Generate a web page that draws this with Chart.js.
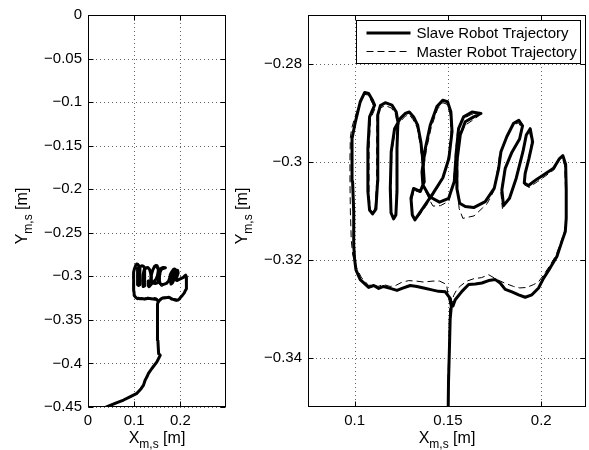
<!DOCTYPE html>
<html>
<head>
<meta charset="utf-8">
<script src="https://cdn.jsdelivr.net/npm/chart.js@4.4.1/dist/chart.umd.min.js"></script>
<style>
  html, body { margin: 0; padding: 0; background: #fff; }
  #wrap { position: relative; width: 589px; height: 450px; overflow: hidden; }
  canvas { position: absolute; top: 0; }
  #leftCanvas { left: 0; }
  #rightCanvas { left: 228px; }
</style>
</head>
<body>
<div id="wrap">
  <canvas id="leftCanvas" width="228" height="450"></canvas>
  <canvas id="rightCanvas" width="361" height="450"></canvas>
</div>
<script>
const FONT = '"Liberation Sans", Arial, Helvetica, sans-serif';

// Slave robot trajectory (solid)
const slaveX = [
  0.0400, 0.0600, 0.0770, 0.0920, 0.1060, 0.1150, 0.1203, 0.1239, 0.1280, 0.1310,
  0.1384, 0.1493, 0.1565, 0.1530, 0.1514, 0.1505, 0.1500, 0.1503, 0.1508, 0.1512,
  0.1518, 0.1513, 0.1486, 0.1450, 0.1414, 0.1370, 0.1334, 0.1298, 0.1254, 0.1227,
  0.1191, 0.1155, 0.1129, 0.1102, 0.1075, 0.1030, 0.1007, 0.1000, 0.0995, 0.0995,
  0.0989, 0.0986, 0.0986, 0.1004, 0.1030, 0.1054, 0.1075, 0.1096, 0.1107, 0.1080,
  0.1071, 0.1071, 0.1080, 0.1096, 0.1114, 0.1123, 0.1123, 0.1125, 0.1138, 0.1164,
  0.1200, 0.1223, 0.1232, 0.1227, 0.1227, 0.1221, 0.1209, 0.1195, 0.1191, 0.1196,
  0.1214, 0.1245, 0.1271, 0.1293, 0.1316, 0.1338, 0.1355, 0.1366, 0.1373, 0.1352,
  0.1316, 0.1302, 0.1309, 0.1323, 0.1366, 0.1420, 0.1473, 0.1505, 0.1522, 0.1516,
  0.1498, 0.1472, 0.1441, 0.1405, 0.1379, 0.1361, 0.1366, 0.1402, 0.1455, 0.1504,
  0.1534, 0.1545, 0.1557, 0.1584, 0.1629, 0.1677, 0.1638, 0.1593, 0.1566, 0.1548,
  0.1548, 0.1563, 0.1593, 0.1638, 0.1700, 0.1748, 0.1772, 0.1784, 0.1816, 0.1852,
  0.1880, 0.1900, 0.1884, 0.1843, 0.1807, 0.1789, 0.1798, 0.1830, 0.1866, 0.1902,
  0.1920, 0.1941, 0.1954, 0.1934, 0.1914, 0.1909, 0.1932, 0.1977, 0.2022, 0.2066,
  0.2098, 0.2116, 0.2131, 0.2134, 0.2134, 0.2129, 0.2111, 0.2084, 0.2048, 0.2013,
  0.1986, 0.1950, 0.1914, 0.1879, 0.1843, 0.1807, 0.1780, 0.1754, 0.1718, 0.1682,
  0.1647, 0.1611, 0.1575, 0.1539, 0.1527
];
const slaveY = [
  -0.4500, -0.4455, -0.4420, -0.4380, -0.4343, -0.4290, -0.4249, -0.4191, -0.4150, -0.4115,
  -0.4058, -0.3982, -0.3906, -0.3887, -0.3735, -0.3650, -0.3550, -0.3450, -0.3380, -0.3320,
  -0.3295, -0.3279, -0.3265, -0.3264, -0.3261, -0.3257, -0.3254, -0.3252, -0.3258, -0.3262,
  -0.3258, -0.3254, -0.3258, -0.3252, -0.3256, -0.3240, -0.3220, -0.3199, -0.3169, -0.3101,
  -0.3040, -0.3006, -0.2952, -0.2918, -0.2877, -0.2858, -0.2860, -0.2874, -0.2884, -0.2908,
  -0.2972, -0.3060, -0.3098, -0.3106, -0.3096, -0.3040, -0.2959, -0.2904, -0.2885, -0.2879,
  -0.2884, -0.2898, -0.2918, -0.2972, -0.3060, -0.3108, -0.3116, -0.3104, -0.3054, -0.2979,
  -0.2932, -0.2911, -0.2901, -0.2898, -0.2908, -0.2925, -0.2959, -0.2999, -0.3040, -0.3060,
  -0.3054, -0.3074, -0.3108, -0.3118, -0.3094, -0.3064, -0.3032, -0.2993, -0.2938, -0.2898,
  -0.2877, -0.2874, -0.2887, -0.2925, -0.2972, -0.3020, -0.3047, -0.3071, -0.3082, -0.3074,
  -0.3040, -0.2979, -0.2932, -0.2908, -0.2898, -0.2901, -0.2908, -0.2918, -0.2945, -0.2999,
  -0.3054, -0.3084, -0.3091, -0.3093, -0.3081, -0.3054, -0.3013, -0.2979, -0.2948, -0.2921,
  -0.2915, -0.2926, -0.2953, -0.2980, -0.3013, -0.3057, -0.3089, -0.3074, -0.3033, -0.2979,
  -0.2945, -0.2932, -0.2959, -0.2993, -0.3023, -0.3043, -0.3048, -0.3035, -0.3024, -0.3013,
  -0.2993, -0.2987, -0.3005, -0.3054, -0.3115, -0.3142, -0.3162, -0.3193, -0.3216, -0.3237,
  -0.3257, -0.3271, -0.3276, -0.3271, -0.3265, -0.3260, -0.3247, -0.3240, -0.3242, -0.3247,
  -0.3249, -0.3250, -0.3264, -0.3281, -0.3294
];

// Master robot trajectory (dashed)
const masterX = [
  0.0410, 0.0620, 0.0780, 0.0930, 0.1060, 0.1160, 0.1210, 0.1250, 0.1285, 0.1315,
  0.1390, 0.1497, 0.1560, 0.1527, 0.1512, 0.1502, 0.1498, 0.1500, 0.1505, 0.1508,
  0.1510, 0.1500, 0.1493, 0.1455, 0.1420, 0.1370, 0.1330, 0.1290, 0.1250, 0.1220,
  0.1190, 0.1155, 0.1125, 0.1100, 0.1075, 0.1035, 0.1005, 0.0990, 0.0982, 0.0977,
  0.0975, 0.0975, 0.0977, 0.0985, 0.1000, 0.1028, 0.1050, 0.1072, 0.1095, 0.1108,
  0.1085, 0.1077, 0.1077, 0.1084, 0.1098, 0.1110, 0.1118, 0.1118, 0.1120, 0.1135,
  0.1165, 0.1198, 0.1220, 0.1228, 0.1224, 0.1224, 0.1218, 0.1207, 0.1198, 0.1195,
  0.1199, 0.1217, 0.1248, 0.1273, 0.1294, 0.1314, 0.1335, 0.1350, 0.1361, 0.1368,
  0.1350, 0.1318, 0.1306, 0.1312, 0.1325, 0.1368, 0.1420, 0.1470, 0.1500, 0.1516,
  0.1512, 0.1495, 0.1472, 0.1444, 0.1410, 0.1384, 0.1367, 0.1370, 0.1405, 0.1420,
  0.1460, 0.1505, 0.1530, 0.1540, 0.1552, 0.1580, 0.1625, 0.1668, 0.1635, 0.1592,
  0.1562, 0.1553, 0.1552, 0.1560, 0.1580, 0.1640, 0.1685, 0.1710, 0.1745, 0.1766,
  0.1778, 0.1812, 0.1848, 0.1878, 0.1895, 0.1880, 0.1838, 0.1802, 0.1784, 0.1792,
  0.1825, 0.1862, 0.1898, 0.1916, 0.1938, 0.1948, 0.1930, 0.1912, 0.1908, 0.1935,
  0.1980, 0.2025, 0.2068, 0.2096, 0.2112, 0.2126, 0.2130, 0.2131, 0.2126, 0.2108,
  0.2080, 0.2045, 0.2010, 0.1985, 0.1960, 0.1923, 0.1885, 0.1852, 0.1810, 0.1763,
  0.1718, 0.1680, 0.1640, 0.1602, 0.1570, 0.1548, 0.1530, 0.1522
];
const masterY = [
  -0.4500, -0.4452, -0.4418, -0.4378, -0.4340, -0.4287, -0.4245, -0.4188, -0.4148, -0.4112,
  -0.4055, -0.3978, -0.3902, -0.3884, -0.3732, -0.3650, -0.3550, -0.3450, -0.3380, -0.3320,
  -0.3290, -0.3270, -0.3250, -0.3243, -0.3243, -0.3245, -0.3243, -0.3242, -0.3246, -0.3252,
  -0.3254, -0.3250, -0.3254, -0.3250, -0.3252, -0.3235, -0.3212, -0.3190, -0.3160, -0.3100,
  -0.3040, -0.2990, -0.2950, -0.2930, -0.2910, -0.2880, -0.2862, -0.2863, -0.2880, -0.2892,
  -0.2912, -0.2975, -0.3062, -0.3098, -0.3104, -0.3092, -0.3040, -0.2960, -0.2906, -0.2890,
  -0.2885, -0.2890, -0.2904, -0.2922, -0.2975, -0.3062, -0.3110, -0.3118, -0.3104, -0.3054,
  -0.2980, -0.2936, -0.2916, -0.2906, -0.2904, -0.2914, -0.2930, -0.2962, -0.3000, -0.3042,
  -0.3062, -0.3058, -0.3078, -0.3110, -0.3120, -0.3098, -0.3068, -0.3036, -0.2996, -0.2942,
  -0.2902, -0.2882, -0.2879, -0.2892, -0.2930, -0.2976, -0.3022, -0.3052, -0.3080, -0.3090,
  -0.3089, -0.3080, -0.3042, -0.2982, -0.2936, -0.2912, -0.2903, -0.2905, -0.2914, -0.2925,
  -0.2950, -0.3000, -0.3056, -0.3095, -0.3115, -0.3110, -0.3094, -0.3085, -0.3060, -0.3015,
  -0.2982, -0.2952, -0.2925, -0.2920, -0.2930, -0.2957, -0.2985, -0.3018, -0.3062, -0.3095,
  -0.3078, -0.3036, -0.2982, -0.2948, -0.2937, -0.2962, -0.2997, -0.3028, -0.3046, -0.3052,
  -0.3040, -0.3028, -0.3016, -0.2996, -0.2990, -0.3008, -0.3055, -0.3115, -0.3140, -0.3160,
  -0.3190, -0.3212, -0.3232, -0.3245, -0.3250, -0.3256, -0.3257, -0.3254, -0.3248, -0.3240,
  -0.3230, -0.3236, -0.3238, -0.3243, -0.3252, -0.3260, -0.3273, -0.3288
];

const seriesLabels = ["Slave Robot Trajectory", "Master Robot Trajectory"];

// Axis limits and tick values
const leftXRange = [0, 0.299];
const leftYRange = [-0.45, 0];
const leftXTicks = [0, 0.1, 0.2];
const leftYTicks = [0, -0.05, -0.1, -0.15, -0.2, -0.25, -0.3, -0.35, -0.4, -0.45];

const rightXRange = [0.075, 0.224];
const rightYRange = [-0.35, -0.27];
const rightXTicks = [0.1, 0.15, 0.2];
const rightYTicks = [-0.28, -0.3, -0.32, -0.34];

// Axis titles: main letter, subscript, rest
const xTitle = ["X", "m,s", " [m]"];
const yTitle = ["Y", "m,s", " [m]"];

function fmtTick(v) {
  return String(Math.round(v * 1000) / 1000).replace("-", "\u2212");
}

function toPoints(xs, ys) {
  return xs.map((x, i) => ({ x, y: ys[i] }));
}

function drawSubLabel(ctx, parts, x, y, rotate) {
  const [main, sub, rest] = parts;
  ctx.save();
  ctx.translate(x, y);
  if (rotate) ctx.rotate(-Math.PI / 2);
  ctx.fillStyle = "#000";
  ctx.textAlign = "left";
  ctx.textBaseline = "alphabetic";
  ctx.font = `16px ${FONT}`;
  const w1 = ctx.measureText(main).width, w3 = ctx.measureText(rest).width;
  ctx.font = `12px ${FONT}`;
  const w2 = ctx.measureText(sub).width;
  let cx = -(w1 + w2 + w3) / 2;
  ctx.font = `16px ${FONT}`;
  ctx.fillText(main, cx, 0);
  cx += w1;
  ctx.font = `12px ${FONT}`;
  ctx.fillText(sub, cx, 5);
  cx += w2;
  ctx.font = `16px ${FONT}`;
  ctx.fillText(rest, cx, 0);
  ctx.restore();
}

// MATLAB-ish axes: dotted grid, box, inward ticks, subscripted titles, boxed legend
const matlabAxes = {
  id: "matlabAxes",
  beforeDatasetsDraw(chart) {
    const { ctx, chartArea: a, scales: { x, y } } = chart;
    ctx.save();
    ctx.strokeStyle = "rgba(0,0,0,0.6)";
    ctx.lineWidth = 1;
    ctx.setLineDash([1, 3]);
    ctx.beginPath();
    x.ticks.forEach(t => {
      const px = Math.round(x.getPixelForValue(t.value)) + 0.5;
      ctx.moveTo(px, a.top); ctx.lineTo(px, a.bottom);
    });
    y.ticks.forEach(t => {
      const py = Math.round(y.getPixelForValue(t.value)) + 0.5;
      ctx.moveTo(a.left, py); ctx.lineTo(a.right, py);
    });
    ctx.stroke();
    ctx.restore();
  },
  afterDraw(chart, args, opts) {
    const { ctx, chartArea: a, scales: { x, y } } = chart;
    const L = Math.round(a.left) + 0.5, R = Math.round(a.right) - 0.5;
    const T = Math.round(a.top) + 0.5, B = Math.round(a.bottom) - 0.5;
    ctx.save();
    ctx.strokeStyle = "#000";
    ctx.lineWidth = 1;
    ctx.setLineDash([]);
    ctx.strokeRect(L, T, R - L, B - T);
    ctx.beginPath();
    x.ticks.forEach(t => {
      const px = Math.round(x.getPixelForValue(t.value)) + 0.5;
      ctx.moveTo(px, B); ctx.lineTo(px, B - 5);
      ctx.moveTo(px, T); ctx.lineTo(px, T + 5);
    });
    y.ticks.forEach(t => {
      const py = Math.round(y.getPixelForValue(t.value)) + 0.5;
      ctx.moveTo(L, py); ctx.lineTo(L + 5, py);
      ctx.moveTo(R, py); ctx.lineTo(R - 5, py);
    });
    ctx.stroke();

    drawSubLabel(ctx, xTitle, (a.left + a.right) / 2, 443, false);
    drawSubLabel(ctx, yTitle, a.left - 61, 216, true);

    if (opts.legend) {
      ctx.font = `15px ${FONT}`;
      const labels = chart.data.datasets.map(d => d.label);
      const tw = Math.max(...labels.map(s => ctx.measureText(s).width));
      const bw = Math.round(60 + tw + 4), bh = 43;
      const bx = Math.round(a.right) - 6 - bw + 0.5, by = 20.5;
      ctx.fillStyle = "#fff";
      ctx.fillRect(bx, by, bw, bh);
      ctx.strokeRect(bx, by, bw, bh);
      chart.data.datasets.forEach((d, i) => {
        const ly = by + 12.5 + i * 18.5;
        ctx.save();
        ctx.strokeStyle = d.borderColor;
        ctx.lineWidth = d.borderWidth;
        ctx.setLineDash(d.borderDash || []);
        ctx.beginPath();
        ctx.moveTo(bx + 10, ly); ctx.lineTo(bx + 54, ly);
        ctx.stroke();
        ctx.restore();
        ctx.fillStyle = "#000";
        ctx.textBaseline = "middle";
        ctx.textAlign = "left";
        ctx.fillText(d.label, bx + 60, ly + 1);
      });
    }
    ctx.restore();
  },
};

function makeTrajectoryChart(canvasId, cfg) {
  const axis = (range, ticks) => ({
    type: "linear",
    min: range[0],
    max: range[1],
    afterBuildTicks: (scale) => { scale.ticks = ticks.map(v => ({ value: v })); },
    grid: { display: false, drawTicks: false },
    border: { display: false },
    ticks: {
      autoSkip: false,
      maxRotation: 0,
      padding: cfg.tickPad,
      color: "#000",
      font: { family: FONT, size: 15 },
      callback: (v) => fmtTick(v),
    },
  });
  const xAxis = axis(cfg.xRange, cfg.xTicks);
  xAxis.afterFit = (scale) => { scale.height = 43; };
  const yAxis = axis(cfg.yRange, cfg.yTicks);
  yAxis.ticks.padding = 6;
  yAxis.afterFit = (scale) => { scale.width = cfg.yWidth; };

  return new Chart(document.getElementById(canvasId), {
    type: "scatter",
    data: {
      datasets: [
        {
          label: seriesLabels[0],
          data: toPoints(slaveX, slaveY),
          showLine: true,
          borderColor: "#000",
          borderWidth: 3,
          borderJoinStyle: "round",
          borderCapStyle: "round",
          pointRadius: 0,
        },
        {
          label: seriesLabels[1],
          data: toPoints(masterX, masterY),
          showLine: true,
          borderColor: "#000",
          borderWidth: 1,
          borderDash: [7, 4],
          pointRadius: 0,
        },
      ],
    },
    options: {
      responsive: false,
      animation: false,
      layout: { padding: { top: 13, right: cfg.padRight, left: 0, bottom: 0 } },
      plugins: {
        legend: { display: false },
        tooltip: { enabled: false },
        matlabAxes: { legend: cfg.legend },
      },
      scales: { x: xAxis, y: yAxis },
    },
    plugins: [matlabAxes],
  });
}

makeTrajectoryChart("leftCanvas", {
  xRange: leftXRange, yRange: leftYRange, xTicks: leftXTicks, yTicks: leftYTicks,
  yWidth: 88, padRight: 2, tickPad: 5, legend: false,
});

makeTrajectoryChart("rightCanvas", {
  xRange: rightXRange, yRange: rightYRange, xTicks: rightXTicks, yTicks: rightYTicks,
  yWidth: 80, padRight: 3, tickPad: 5, legend: true,
});
</script>
</body>
</html>
